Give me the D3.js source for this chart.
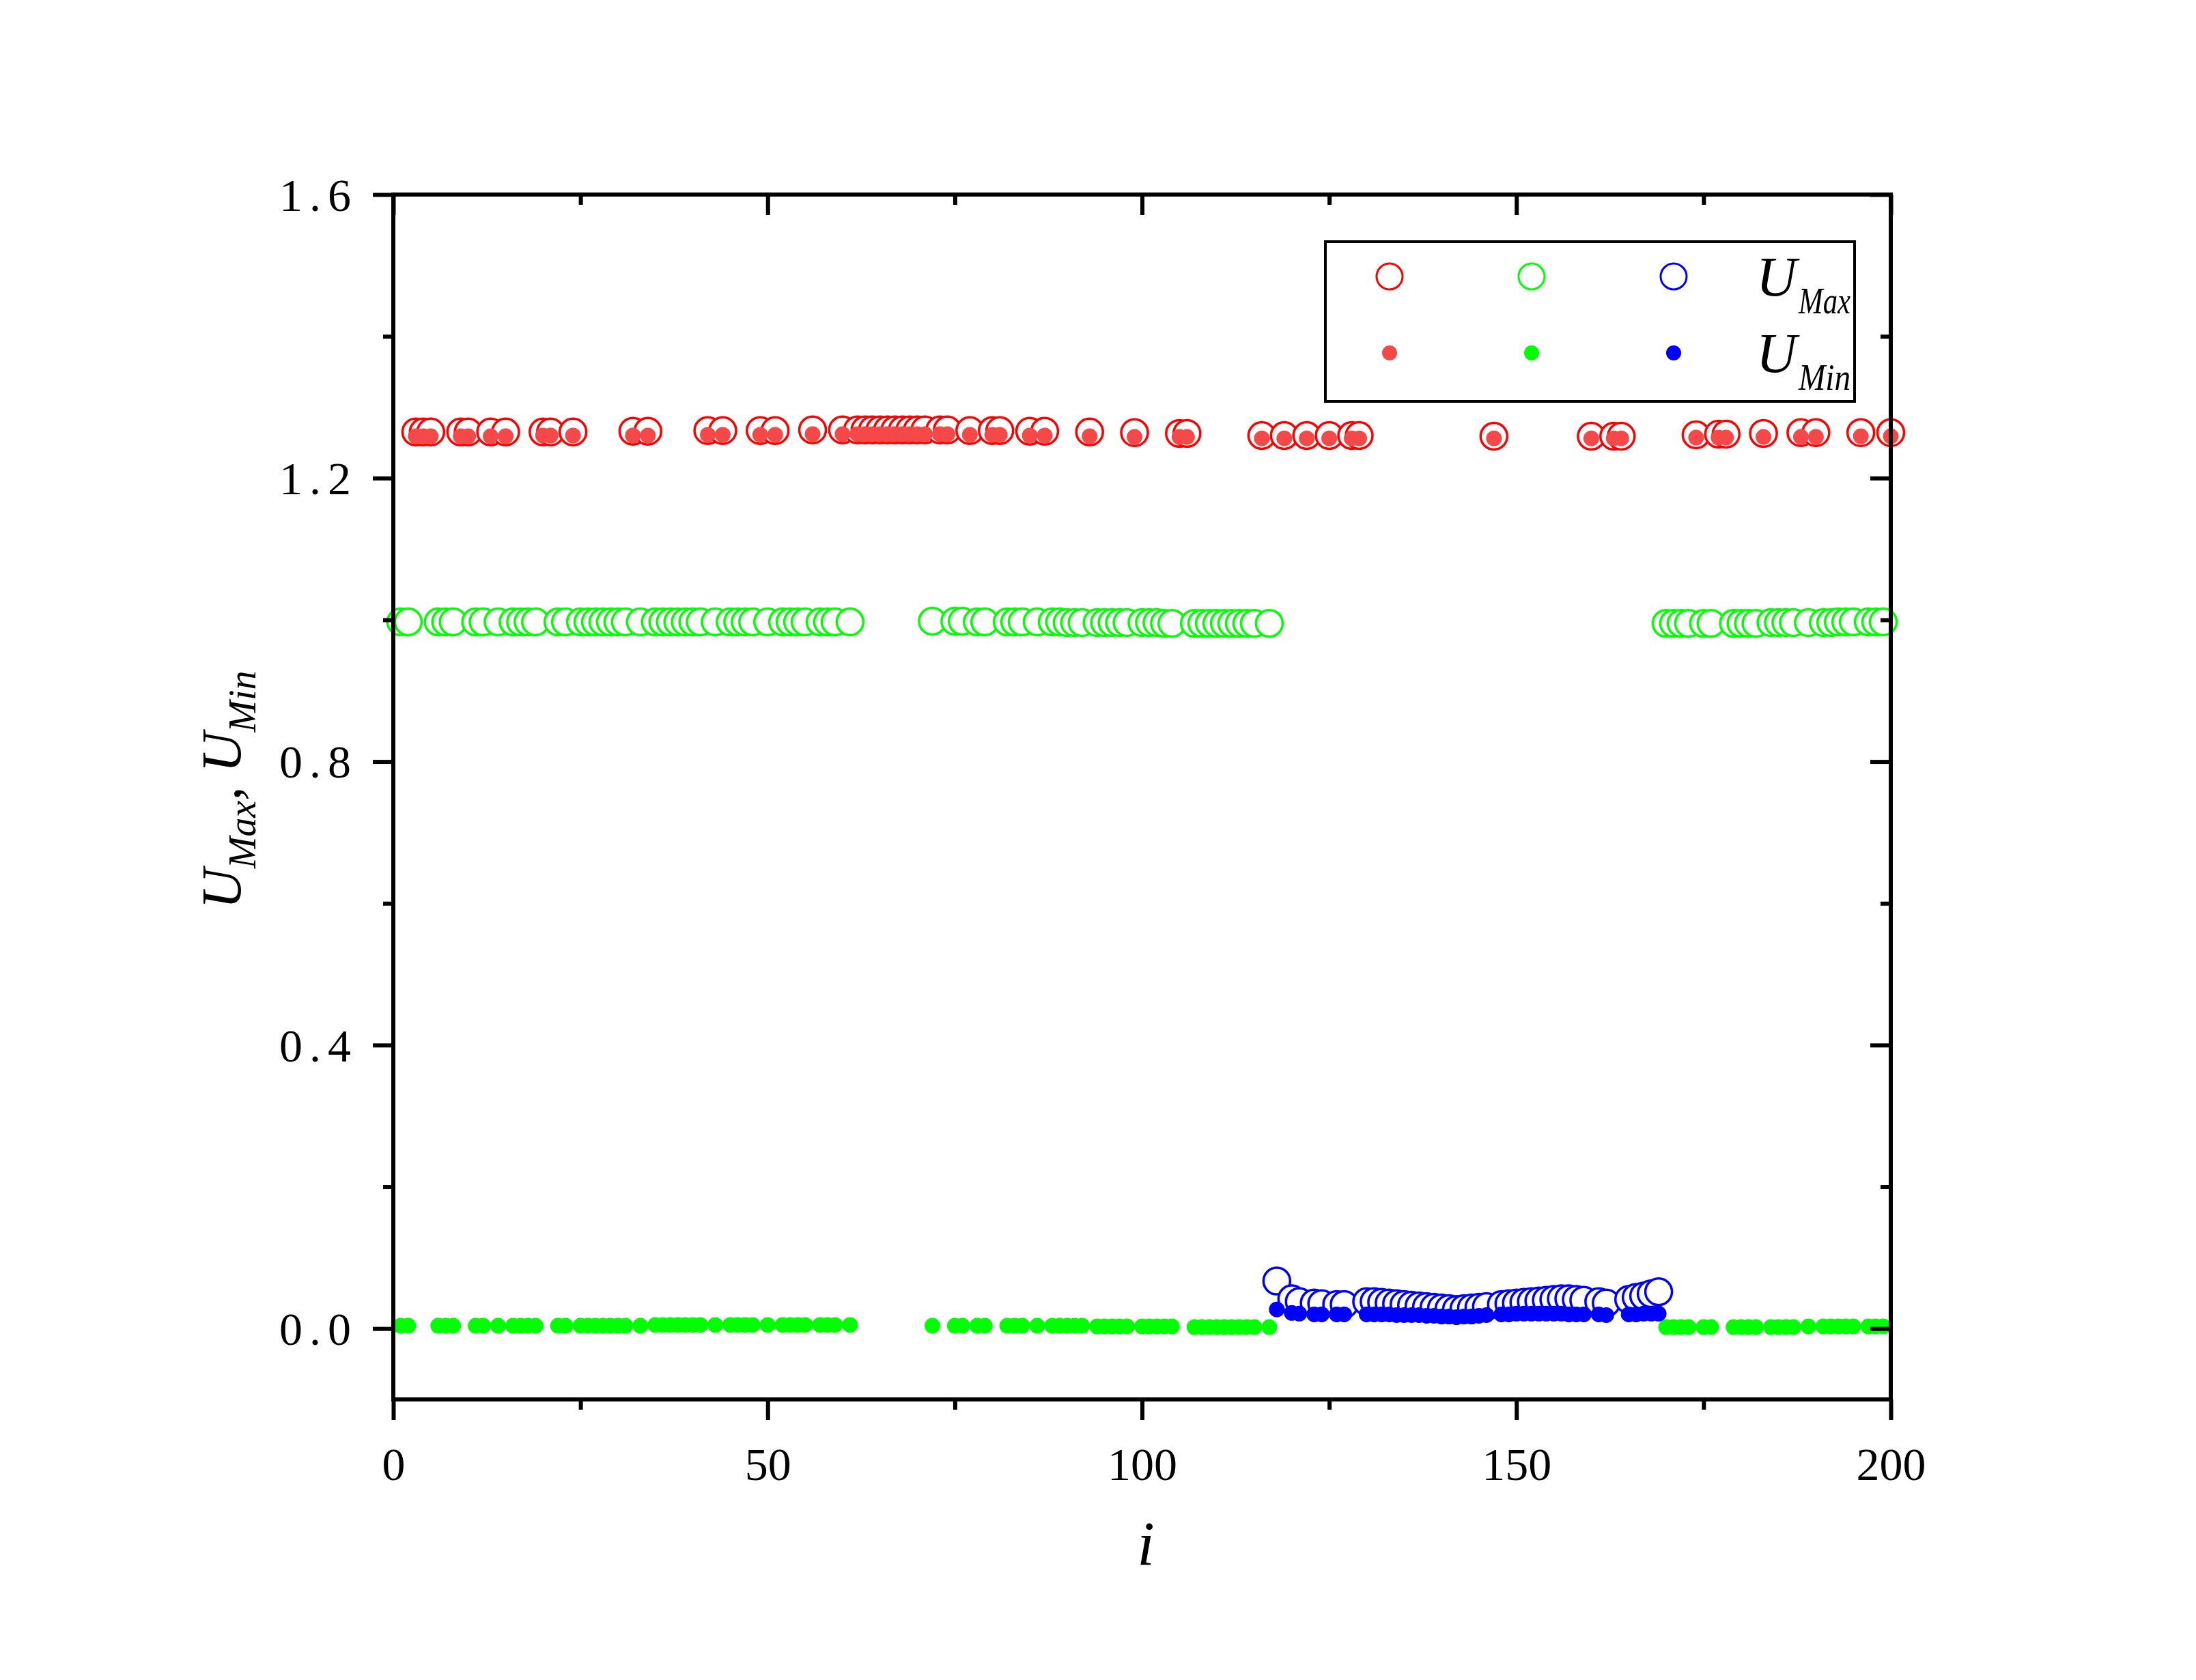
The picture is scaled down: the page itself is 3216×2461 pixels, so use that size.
<!DOCTYPE html>
<html>
<head>
<meta charset="utf-8">
<script src="https://cdn.jsdelivr.net/npm/d3@7"></script>
<style>
  html, body { margin: 0; padding: 0; background: #ffffff; }
  svg { display: block; }
</style>
</head>
<body>
<script>
// ---------------- DATA ----------------
const xTicksMajor = [0, 50, 100, 150, 200];
const xTicksMinor = [25, 75, 125, 175];
const yTicksMajor = [0.0, 0.4, 0.8, 1.2, 1.6];
const yTicksMinor = [0.2, 0.6, 1.0, 1.4];
const seriesNames = ["red", "green", "blue"];
const legendLabels = ["Max", "Min"];

const redI = [3,4,5,9,10,13,15,20,21,24,32,34,42,44,49,51,56,60,62,63,64,65,66,67,68,69,70,71,73,74,77,80,81,85,87,93,99,105,106,116,119,122,125,128,129,147,160,163,164,174,177,178,183,188,190,196,200];
const redMax = [1.265,1.265,1.265,1.265,1.265,1.265,1.265,1.265,1.265,1.265,1.266,1.266,1.267,1.267,1.267,1.267,1.268,1.268,1.268,1.268,1.268,1.268,1.268,1.268,1.268,1.268,1.268,1.268,1.268,1.268,1.267,1.267,1.267,1.266,1.266,1.265,1.264,1.263,1.263,1.260,1.260,1.260,1.260,1.260,1.260,1.259,1.259,1.259,1.259,1.261,1.262,1.262,1.263,1.264,1.264,1.264,1.264];
const redMin = [1.259,1.259,1.259,1.259,1.259,1.259,1.259,1.260,1.260,1.260,1.260,1.260,1.261,1.261,1.261,1.261,1.262,1.262,1.262,1.262,1.262,1.262,1.262,1.262,1.262,1.262,1.262,1.262,1.262,1.262,1.261,1.261,1.261,1.260,1.260,1.259,1.258,1.258,1.258,1.256,1.256,1.256,1.256,1.256,1.256,1.256,1.256,1.256,1.256,1.257,1.257,1.257,1.258,1.258,1.258,1.259,1.259];

const greenI = [1,2,6,7,8,11,12,14,16,17,18,19,22,23,25,26,27,28,29,30,31,33,35,36,37,38,39,40,41,43,45,46,47,48,50,52,53,54,55,57,58,59,61,
  72,75,76,78,79,82,83,84,86,88,89,90,91,92,94,95,96,97,98,100,101,102,103,104,107,108,109,110,111,112,113,114,115,117,
  170,171,172,173,175,176,179,180,181,182,184,185,186,187,189,191,192,193,194,195,197,198,199];
const greenMax = [0.997,0.997,0.997,0.997,0.997,0.997,0.997,0.997,0.997,0.997,0.997,0.997,0.997,0.997,0.997,0.997,0.997,0.997,0.997,0.997,0.997,0.997,0.997,0.997,0.997,0.997,0.997,0.997,0.997,0.997,0.997,0.997,0.997,0.997,0.997,0.997,0.997,0.997,0.997,0.997,0.997,0.997,0.997,
  0.998,0.998,0.998,0.997,0.997,0.997,0.997,0.997,0.997,0.997,0.997,0.996,0.996,0.996,0.996,0.996,0.996,0.996,0.996,0.996,0.996,0.996,0.995,0.995,0.995,0.995,0.995,0.995,0.995,0.995,0.995,0.995,0.995,0.995,
  0.995,0.995,0.995,0.995,0.995,0.995,0.995,0.995,0.995,0.995,0.996,0.996,0.996,0.996,0.996,0.996,0.996,0.997,0.997,0.997,0.997,0.997,0.997];
const greenMin = [0.004,0.004,0.004,0.004,0.004,0.004,0.004,0.004,0.004,0.004,0.004,0.004,0.004,0.004,0.004,0.004,0.004,0.004,0.004,0.004,0.004,0.004,0.005,0.005,0.005,0.005,0.005,0.005,0.005,0.005,0.005,0.005,0.005,0.005,0.005,0.005,0.005,0.005,0.005,0.005,0.005,0.005,0.005,
  0.004,0.004,0.004,0.004,0.004,0.004,0.004,0.004,0.004,0.004,0.004,0.004,0.004,0.004,0.003,0.003,0.003,0.003,0.003,0.003,0.003,0.003,0.003,0.003,0.002,0.002,0.002,0.002,0.002,0.002,0.002,0.002,0.002,0.002,
  0.002,0.002,0.002,0.002,0.002,0.002,0.002,0.002,0.002,0.002,0.002,0.002,0.002,0.002,0.003,0.003,0.003,0.003,0.003,0.003,0.003,0.003,0.003,0.003,0.003];

const blueI = [118,120,121,123,124,126,127,130,131,132,133,134,135,136,137,138,139,140,141,142,143,144,145,146,148,149,150,151,152,153,154,155,156,157,158,159,161,162,165,166,167,168,169];
const blueMax = [0.067,0.042,0.038,0.036,0.035,0.034,0.034,0.038,0.038,0.037,0.036,0.035,0.034,0.033,0.032,0.031,0.030,0.029,0.028,0.027,0.028,0.029,0.030,0.031,0.034,0.035,0.036,0.037,0.038,0.039,0.040,0.041,0.042,0.042,0.041,0.040,0.038,0.036,0.041,0.044,0.046,0.049,0.052];
const blueMin = [0.027,0.022,0.021,0.020,0.020,0.020,0.020,0.020,0.020,0.020,0.020,0.019,0.019,0.019,0.019,0.018,0.018,0.017,0.017,0.016,0.017,0.017,0.018,0.019,0.020,0.020,0.021,0.021,0.021,0.021,0.021,0.021,0.021,0.020,0.020,0.020,0.020,0.019,0.020,0.020,0.021,0.021,0.021];

// ---------------- LAYOUT / STYLE ----------------
const W = 3216, H = 2461;
const plot = { left: 576, right: 2769, top: 285, bottom: 2050 };
const colors = { red: "#ff0000", green: "#00ff00", blue: "#0000ff" };
const dotColors = { red: "#f54848", green: "#00ff00", blue: "#0000ff" };
const serif = "'Liberation Serif', 'Times New Roman', serif";

const svg = d3.select("body").append("svg")
  .attr("width", W).attr("height", H)
  .attr("viewBox", `0 0 ${W} ${H}`);
svg.append("rect").attr("width", W).attr("height", H).attr("fill", "#fff");

const x = d3.scaleLinear().domain([0, 200]).range([plot.left, plot.right]);
const y = d3.scaleLinear().domain([-0.1, 1.6]).range([plot.bottom, plot.top]);

const series = [
  { name: "red", I: redI, max: redMax, min: redMin },
  { name: "green", I: greenI, max: greenMax, min: greenMin },
  { name: "blue", I: blueI, max: blueMax, min: blueMin }
];

const marks = svg.append("g");
// circles (U_Max) first, white filled so later ones overlap earlier ones
series.forEach(s => {
  marks.append("g").selectAll("circle")
    .data(s.I.map((d, k) => ({ i: d, v: s.max[k] })))
    .join("circle")
    .attr("cx", d => x(d.i)).attr("cy", d => y(d.v))
    .attr("r", 19.5)
    .attr("fill", "#fff")
    .attr("stroke", colors[s.name])
    .attr("stroke-width", 3.5);
});
// dots (U_Min) on top
series.forEach(s => {
  marks.append("g").selectAll("circle")
    .data(s.I.map((d, k) => ({ i: d, v: s.min[k] })))
    .join("circle")
    .attr("cx", d => x(d.i)).attr("cy", d => y(d.v))
    .attr("r", 11.5)
    .attr("fill", dotColors[s.name]);
});

// ---------------- AXES ----------------
const axW = 6;
function styleAxis(g) {
  g.select(".domain").remove();
  g.selectAll(".tick line").attr("stroke", "#000").attr("stroke-width", axW);
  g.selectAll(".tick text").attr("font-family", serif).attr("font-size", 68).attr("fill", "#000");
}
const fmt = d3.format(".1f");

// left (outward)
svg.append("g").attr("transform", `translate(${plot.left},0)`)
  .call(d3.axisLeft(y).tickValues(yTicksMajor).tickSize(30).tickPadding(22).tickFormat(fmt))
  .call(styleAxis)
  .call(g => g.selectAll(".tick text").attr("letter-spacing", 10).attr("dy", "0.34em"));
svg.append("g").attr("transform", `translate(${plot.left},0)`)
  .call(d3.axisLeft(y).tickValues(yTicksMinor).tickSize(15).tickFormat(""))
  .call(styleAxis);
// right (inward)
svg.append("g").attr("transform", `translate(${plot.right},0)`)
  .call(d3.axisLeft(y).tickValues(yTicksMajor).tickSize(30).tickFormat(""))
  .call(styleAxis);
svg.append("g").attr("transform", `translate(${plot.right},0)`)
  .call(d3.axisLeft(y).tickValues(yTicksMinor).tickSize(15).tickFormat(""))
  .call(styleAxis);
// bottom (outward)
svg.append("g").attr("transform", `translate(0,${plot.bottom})`)
  .call(d3.axisBottom(x).tickValues(xTicksMajor).tickSize(30).tickPadding(40).tickFormat(d3.format("d")))
  .call(styleAxis);
svg.append("g").attr("transform", `translate(0,${plot.bottom})`)
  .call(d3.axisBottom(x).tickValues(xTicksMinor).tickSize(15).tickFormat(""))
  .call(styleAxis);
// top (inward)
svg.append("g").attr("transform", `translate(0,${plot.top})`)
  .call(d3.axisBottom(x).tickValues(xTicksMajor).tickSize(30).tickFormat(""))
  .call(styleAxis);
svg.append("g").attr("transform", `translate(0,${plot.top})`)
  .call(d3.axisBottom(x).tickValues(xTicksMinor).tickSize(15).tickFormat(""))
  .call(styleAxis);

// frame
svg.append("rect")
  .attr("x", plot.left).attr("y", plot.top)
  .attr("width", plot.right - plot.left).attr("height", plot.bottom - plot.top)
  .attr("fill", "none").attr("stroke", "#000").attr("stroke-width", axW);

// axis titles
svg.append("text")
  .attr("x", 1678).attr("y", 2292)
  .attr("text-anchor", "middle")
  .attr("font-family", serif).attr("font-style", "italic").attr("font-size", 92)
  .text("i");

const yl = svg.append("text")
  .attr("transform", "translate(352,1157) rotate(-90)")
  .attr("text-anchor", "middle")
  .attr("font-family", serif).attr("font-style", "italic").attr("font-size", 82);
yl.append("tspan").text("U");
yl.append("tspan").attr("font-size", 56).attr("dy", 22).text("Max");
yl.append("tspan").attr("dy", -22).text(", U");
yl.append("tspan").attr("font-size", 56).attr("dy", 22).text("Min");

// ---------------- LEGEND ----------------
const lg = svg.append("g");
lg.append("rect").attr("x", 1941).attr("y", 354).attr("width", 775).attr("height", 234)
  .attr("fill", "#fff").attr("stroke", "#000").attr("stroke-width", 4);
const legX = d3.scalePoint().domain(seriesNames).range([2035, 2451]);
lg.selectAll("circle.lmax").data(seriesNames).join("circle")
  .attr("class", "lmax")
  .attr("cx", d => legX(d)).attr("cy", 405).attr("r", 19)
  .attr("fill", "#fff").attr("stroke", d => colors[d]).attr("stroke-width", 3);
lg.selectAll("circle.lmin").data(seriesNames).join("circle")
  .attr("class", "lmin")
  .attr("cx", d => legX(d)).attr("cy", 517).attr("r", 11)
  .attr("fill", d => dotColors[d]);
legendLabels.forEach((lab, k) => {
  lg.append("text")
    .attr("x", 2572).attr("y", 433 + k * 112)
    .attr("font-family", serif).attr("font-style", "italic").attr("font-size", 82)
    .text("U");
  lg.append("text")
    .attr("x", 2634).attr("y", 459 + k * 112)
    .attr("font-family", serif).attr("font-style", "italic").attr("font-size", 54)
    .attr("textLength", 76).attr("lengthAdjust", "spacingAndGlyphs")
    .text(lab);
});
</script>
</body>
</html>
